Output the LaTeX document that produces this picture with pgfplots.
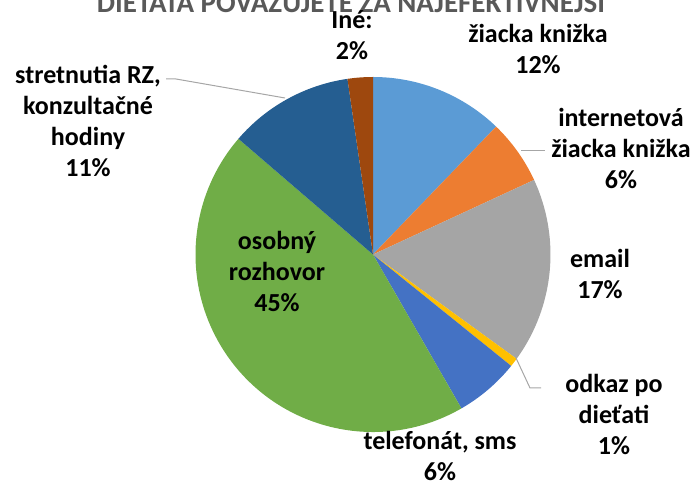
\documentclass[border=0pt]{standalone}
\usepackage{pgfplots}
\usepackage{pgfplotstable}
\pgfplotsset{compat=1.18}
\usepackage{fontspec}
\setmainfont{Carlito}

\definecolor{s0}{HTML}{5B9BD5}
\definecolor{s1}{HTML}{ED7D31}
\definecolor{s2}{HTML}{A5A5A5}
\definecolor{s3}{HTML}{FFC000}
\definecolor{s4}{HTML}{4472C4}
\definecolor{s5}{HTML}{70AD47}
\definecolor{s6}{HTML}{255E91}
\definecolor{s7}{HTML}{9E480E}
\definecolor{titlegray}{HTML}{595959}
\definecolor{leader}{HTML}{A6A6A6}

\tikzset{lbl/.style={font=\bfseries\fontsize{26}{31}\selectfont, align=center, inner sep=0pt}}

% shares in percent, clockwise from 12 o'clock
\pgfplotstableread{
share
12.2
5.9
16.9
0.8
5.9
44.6
11.4
2.3
}\slices

\begin{document}
\begin{tikzpicture}
\useasboundingbox (0,0) rectangle (697pt,487pt);
\clip (0,0) rectangle (697pt,487pt);
\begin{axis}[
    at={(0,0)}, anchor=south west,
    scale only axis, width=697pt, height=487pt,
    xmin=0, xmax=697, ymin=0, ymax=487,
    hide axis, clip=false,
]
\pgfplotstablegetrowsof{\slices}
\pgfmathtruncatemacro\lastrow{\pgfplotsretval-1}
\def\cum{0}
\pgfplotsforeachungrouped \i in {0,...,\lastrow}{
    \pgfplotstablegetelem{\i}{share}\of\slices
    \let\share\pgfplotsretval
    \pgfmathsetmacro\a{90-3.6*\cum}
    \pgfmathsetmacro\b{90-3.6*(\cum+\share)}
    \edef\temp{\noexpand\fill[s\i] (axis cs:373,232.5) -- ++(\a:177.5pt)
        arc[start angle=\a, end angle=\b, radius=177.5pt] -- cycle;}
    \temp
    \pgfmathsetmacro\cum{\cum+\share}
}

% leader lines
\draw[leader, line width=1pt] (axis cs:166,408) -- (axis cs:176,408) -- (axis cs:285,389);
\draw[leader, line width=1pt] (axis cs:521,336) -- (axis cs:545,336);
\draw[leader, line width=1pt] (axis cs:516,129) -- (axis cs:530,99) -- (axis cs:541,99);

% title (cut off at the top in the reference)
\node[anchor=base, text=titlegray, font=\bfseries\fontsize{29}{34}\selectfont]
    at (axis cs:351,474) {DIEŤAŤA POVAŽUJETE ZA NAJEFEKTÍVNEJŠÍ};

% labels
\node[lbl] at (axis cs:352,452) {Iné:\\2\%};
\node[lbl] at (axis cs:538,438) {žiacka knižka\\12\%};
\node[lbl] at (axis cs:621,339) {internetová\\žiacka knižka\\6\%};
\node[lbl] at (axis cs:600,213) {email\\17\%};
\node[lbl] at (axis cs:614,73) {odkaz po\\dieťati\\1\%};
\node[lbl] at (axis cs:440,31) {telefonát, sms\\6\%};
\node[lbl] at (axis cs:277,216) {osobný\\rozhovor\\45\%};
\node[lbl] at (axis cs:88,366) {stretnutia RZ,\\konzultačné\\hodiny\\11\%};
\end{axis}
\end{tikzpicture}
\end{document}
